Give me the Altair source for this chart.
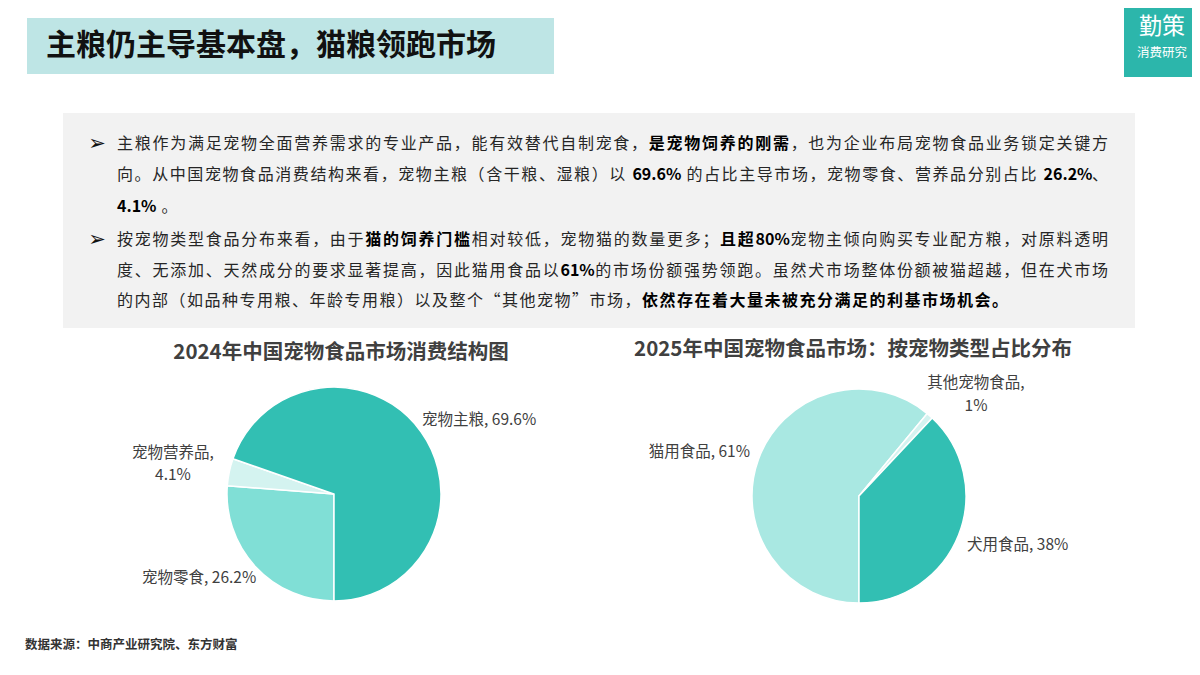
import math
import altair as alt
import pandas as pd

OFF = 8  # page margin
W, H = 1184, 659
FONT = "Noto Sans CJK SC"

# ---------------- data ----------------
food_cats = ["宠物零食", "宠物营养品", "宠物主粮"]
food_vals = [26.2, 4.1, 69.6]
food_colors = ["#80DFD6", "#D4F3F0", "#32BFB3"]

pet_cats = ["猫用食品", "其他宠物食品", "犬用食品"]
pet_vals = [61, 1, 38]
pet_colors = ["#A9E8E2", "#D4F3F0", "#32BFB3"]

title_text = "主粮仍主导基本盘，猫粮领跑市场"
chart1_title = "2024年中国宠物食品市场消费结构图"
chart2_title = "2025年中国宠物食品市场：按宠物类型占比分布"
source_text = "数据来源：中商产业研究院、东方财富"
logo_big = "勤策"
logo_small = "消费研究"

# paragraph lines: list of (segment, bold)
para_lines = [
    [("主粮作为满足宠物全面营养需求的专业产品，能有效替代自制宠食，", False), ("是宠物饲养的刚需", True),
     ("，也为企业布局宠物食品业务锁定关键方", False)],
    [("向。从中国宠物食品消费结构来看，宠物主粮（含干粮、湿粮）以 ", False), ("69.6%", True),
     (" 的占比主导市场，宠物零食、营养品分别占比 ", False), ("26.2%", True), ("、", False)],
    [("4.1%", True), (" 。", False)],
    [("按宠物类型食品分布来看，由于", False), ("猫的饲养门槛", True), ("相对较低，宠物猫的数量更多；", False),
     ("且超80%", True), ("宠物主倾向购买专业配方粮，对原料透明", False)],
    [("度、无添加、天然成分的要求显著提高，因此猫用食品以", False), ("61%", True),
     ("的市场份额强势领跑。虽然犬市场整体份额被猫超越，但在犬市场", False)],
    [("的内部（如品种专用粮、年龄专用粮）以及整个“其他宠物”市场，", False),
     ("依然存在着大量未被充分满足的利基市场机会。", True)],
]
para_justify = [True, True, False, True, True, False]
para_y = [144, 175, 207, 240, 271, 301]
bullet_rows = [0, 3]

# ---------------- layout (page coords) ----------------
TX0, TX1 = 117, 1108
FS = 16
LS = 1.5


def ascii_w(ch):
    if ch.isdigit():
        return 0.555
    if ch == ".":
        return 0.27
    if ch == "%":
        return 0.88
    if ch == " ":
        return 0.25
    return 0.5


def tokenize(seg):
    toks, buf = [], ""
    for ch in seg:
        if ord(ch) < 128 and ch != " ":
            buf += ch
        else:
            if buf:
                toks.append(buf)
                buf = ""
            toks.append(ch)
    if buf:
        toks.append(buf)
    return toks


def tok_width(t, bold):
    w = 0.0
    for ch in t:
        w += ascii_w(ch) if ord(ch) < 128 else 1.0
    f = 1.04 if (bold and all(ord(c) < 128 for c in t)) else 1.0
    return w * FS * f


rows = []
for li, line in enumerate(para_lines):
    toks = []
    for seg, b in line:
        for t in tokenize(seg):
            toks.append((t, b, tok_width(t, b)))
    total = sum(t[2] for t in toks)
    if para_justify[li]:
        gap = (TX1 - TX0 - total) / (len(toks) - 1)
    else:
        gap = LS
    x = TX0
    for t, b, w in toks:
        if t.strip():
            rows.append({"t": t, "x": x - OFF, "y": para_y[li] - OFF, "b": "bold" if b else "normal"})
        x += w + gap
para_df = pd.DataFrame(rows)
bullet_df = pd.DataFrame({"t": ["➢"] * len(bullet_rows),
                          "x": [97 - OFF] * len(bullet_rows),
                          "y": [para_y[i] - OFF for i in bullet_rows]})

one = pd.DataFrame({"a": [0]})


def rect(x0, x1, y0, y1, color):
    return alt.Chart(one).mark_rect(color=color).encode(
        x=alt.value(x0 - OFF), x2=alt.value(x1 - OFF), y=alt.value(y0 - OFF), y2=alt.value(y1 - OFF))


def label(text, x, y, size, color, weight="normal", align="left", font=FONT):
    df = pd.DataFrame({"t": [text], "x": [x - OFF], "y": [y - OFF]})
    return alt.Chart(df).mark_text(align=align, baseline="middle", fontSize=size, color=color,
                                   fontWeight=weight, font=font).encode(
        x=alt.X("x:Q", scale=None), y=alt.Y("y:Q", scale=None), text="t:N")


banner = rect(27, 554, 18, 74, "#BEE5E5")
title = label(title_text, 46, 46, 30, "#111111", "bold")
logo_box = rect(1124, 1200, 8, 77, "#2CB6AB")
logo1 = label(logo_big, 1162, 27, 23, "white", "normal", "center")
logo2 = label(logo_small, 1162, 53, 12.5, "white", "normal", "center")
gray_box = rect(63, 1135, 113, 328, "#F2F2F2")

para_normal = alt.Chart(para_df).transform_filter(alt.datum.b == "normal").mark_text(
    align="left", baseline="middle", fontSize=FS, color="#262626", font=FONT).encode(
    x=alt.X("x:Q", scale=None), y=alt.Y("y:Q", scale=None), text="t:N")
para_bold = alt.Chart(para_df).transform_filter(alt.datum.b == "bold").mark_text(
    align="left", baseline="middle", fontSize=FS, color="#000000", fontWeight="bold", font=FONT).encode(
    x=alt.X("x:Q", scale=None), y=alt.Y("y:Q", scale=None), text="t:N")
bullets = alt.Chart(bullet_df).mark_text(
    align="center", baseline="middle", fontSize=21, color="#111111", font="DejaVu Sans",
    fontWeight="bold").encode(
    x=alt.X("x:Q", scale=None), y=alt.Y("y:Q", scale=None), text="t:N")

t1 = label(chart1_title, 341, 353, 20.5, "#404040", "bold", "center")
t2 = label(chart2_title, 853, 350, 20.5, "#404040", "bold", "center")

# ---------------- pies ----------------
food_df = pd.DataFrame({"cat": food_cats, "val": food_vals, "ord": list(range(len(food_cats)))})
pet_df = pd.DataFrame({"cat": pet_cats, "val": pet_vals, "ord": list(range(len(pet_cats)))})


def pie(df, cats, colors, cx, cy):
    return alt.Chart(df).mark_arc(outerRadius=107, stroke="white", strokeWidth=1.5).encode(
        theta=alt.Theta("val:Q", stack=True, scale=alt.Scale(range=[math.pi, 3 * math.pi])),
        color=alt.Color("cat:N", scale=alt.Scale(domain=cats, range=colors), legend=None),
        order=alt.Order("ord:Q"),
        x=alt.value(cx - OFF), y=alt.value(cy - OFF),
    )


pie1 = pie(food_df, food_cats, food_colors, 334, 494)
pie2 = pie(pet_df, pet_cats, pet_colors, 859, 496)


def pct(v):
    return f"{v:g}%"


LC = "#404040"
LF = 15.5
lab = [
    label(f"{food_cats[2]}, {pct(food_vals[2])}", 422, 420, LF, LC),
    label(f"{food_cats[1]},", 173, 453, LF, LC, align="center"),
    label(pct(food_vals[1]), 173, 475, LF, LC, align="center"),
    label(f"{food_cats[0]}, {pct(food_vals[0])}", 142, 578, LF, LC),
    label(f"{pet_cats[1]},", 976, 383, LF, LC, align="center"),
    label(pct(pet_vals[1]), 976, 406, LF, LC, align="center"),
    label(f"{pet_cats[0]}, {pct(pet_vals[0])}", 750, 452, LF, LC, align="right"),
    label(f"{pet_cats[2]}, {pct(pet_vals[2])}", 967, 545, LF, LC),
]

source = label(source_text, 25, 645, 12.5, "#333333", "bold")

chart = alt.layer(
    banner, title, logo_box, logo1, logo2, gray_box, bullets, para_normal, para_bold,
    t1, t2, pie1, pie2, *lab, source
).resolve_scale(theta="independent", color="independent").properties(
    width=W, height=H, padding=0, autosize=alt.AutoSizeParams(type="none")
).configure(font=FONT, view=alt.ViewConfig(stroke=None))

chart.save("out.html", embed_options={"renderer": "svg", "actions": False})
